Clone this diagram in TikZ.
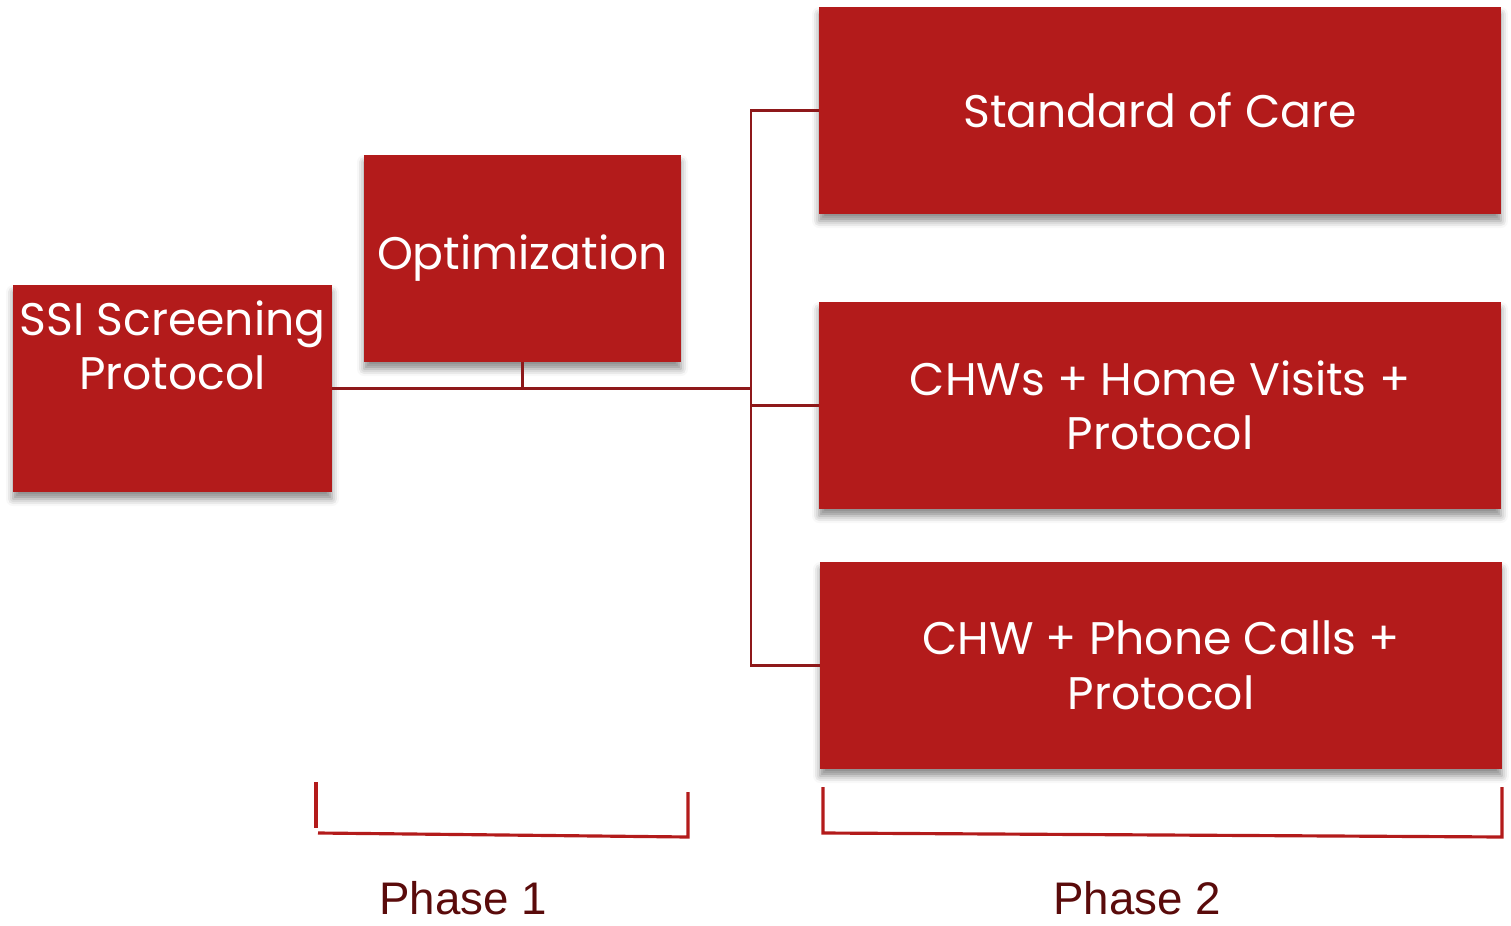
\documentclass[tikz,border=0pt]{standalone}
\usepackage{fontspec}
\usepackage{tikz}
\usetikzlibrary{positioning, shadows.blur}
\newfontfamily\boxfont{Poppins}
\newfontfamily\phasefont{Liberation Sans}
\definecolor{Carmin}{RGB}{179, 27, 27}
\definecolor{Granate}{RGB}{142, 24, 26}
\definecolor{Marron}{RGB}{90, 11, 11}

\begin{document}
\begin{tikzpicture}[
        x=0.02cm, y=-0.02cm,
        box/.style={
            rectangle,
            fill=Carmin,
            minimum height=4.14cm,
            inner sep=0pt,
            align=center,
            text=white,
            font=\boxfont\fontsize{26}{31}\selectfont,
            blur shadow={shadow xshift=0pt, shadow yshift=-4pt, shadow blur radius=4pt, shadow opacity=45}
        },
        boxtxt/.style={
            align=center,
            text=white,
            inner sep=0pt,
            font=\boxfont\fontsize{26}{31}\selectfont
        },
        link/.style={
            draw=Granate,
            line width=1.6pt
        },
        bracket/.style={
            draw=Carmin,
            line width=1.8pt
        },
        phase/.style={
            text=Marron,
            anchor=base,
            inner sep=0pt,
            text depth=0pt,
            font=\phasefont\fontsize{26}{30}\selectfont
        }
    ]
        \useasboundingbox (0,0) rectangle (1511,926);

        % Nodes
        \node[box, minimum width=6.38cm] (ssi) at (172.5, 388.5) {};
        \node[boxtxt, anchor=north] (ssitxt) at (172.5, 300) {SSI Screening\\Protocol};
        \node[box, minimum width=6.34cm] (opt) at (522.5, 258.5) {Optimization};
        \node[box, minimum width=13.64cm] (soc) at (1160, 110.5) {Standard of Care};
        \node[box, minimum width=13.64cm] (visits) at (1160, 405.5) {CHWs + Home Visits +\\Protocol};
        \node[box, minimum width=13.64cm] (calls) at (1161, 665.5) {CHW + Phone Calls +\\Protocol};
        \coordinate (hub) at (751, 388.5);

        % Paths
        \draw[link] (ssi.east) -- (hub);
        \draw[link] (opt.south) -- (opt.south |- hub);
        \draw[link] (soc.west) -| (hub) |- (calls.west);
        \draw[link] (visits.west) -- (visits.west -| hub);

        % Phases
        \draw[bracket] (316, 782) -- (316, 828);
        \draw[bracket] (318, 833) -- (688, 837) -- (688, 792);
        \draw[bracket] (823, 787) -- (823, 833) -- (1502, 837) -- (1502, 787);
        \node[phase] (fase1) at (463, 914) {Phase 1};
        \node[phase] (fase2) at (1137, 914) {Phase 2};
    \end{tikzpicture}
\end{document}
